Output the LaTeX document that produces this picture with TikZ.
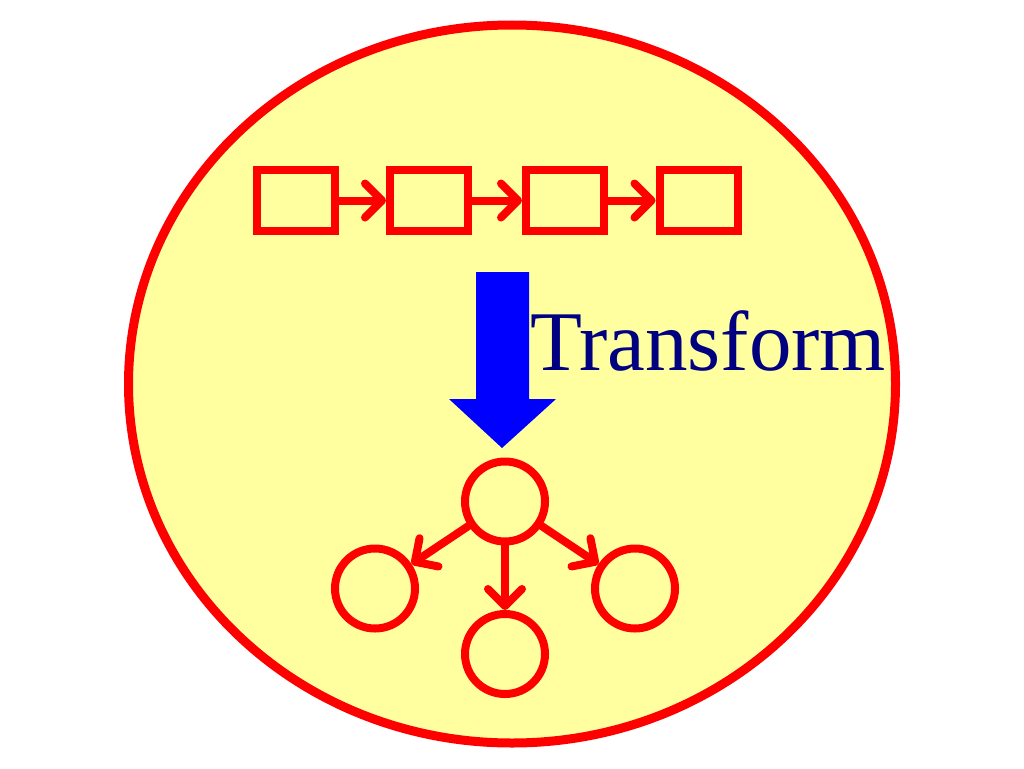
\documentclass[tikz,border=0pt]{standalone}
\usepackage{fontspec}
\setmainfont{Liberation Serif}
\usetikzlibrary{arrows.meta}
\definecolor{bgyellow}{RGB}{255,255,160}
\definecolor{myred}{RGB}{255,0,0}
\definecolor{myblue}{RGB}{0,0,255}
\definecolor{mynavy}{RGB}{0,0,128}
\tikzset{
  listbox/.style={draw=myred, line width=8pt, minimum width=78pt, minimum height=61pt, inner sep=0pt},
  treenode/.style={draw=myred, circle, line width=8pt, minimum size=80pt, inner sep=0pt},
  redarrow/.style={draw=myred, line width=8pt, line cap=round, -{Straight Barb[length=17pt,width=34pt,round]}},
}
\begin{document}
\begin{tikzpicture}[x=1pt,y=-1pt]
\useasboundingbox (0,0) rectangle (1024,768);
% big ellipse
\draw[myred, fill=bgyellow, line width=9pt] (512,384) ellipse [x radius=383.5pt, y radius=359pt];
% list boxes
\node[listbox] (b1) at (295.5,200.5) {};
\node[listbox] (b2) at (429,200.5) {};
\node[listbox] (b3) at (565,200.5) {};
\node[listbox] (b4) at (698.5,200.5) {};
\draw[redarrow] (b1) -- (b2);
\draw[redarrow] (b2) -- (b3);
\draw[redarrow] (b3) -- (b4);
% blue transform arrow
\fill[myblue] (476,272) -- (529,272) -- (529,399) -- (556,399) -- (502,448) -- (449,399) -- (476,399) -- cycle;
\node[anchor=base west, inner sep=0pt, text=mynavy, font=\fontsize{85}{90}\selectfont] (lbl) at (530,370) {Transform};
% tree
\node[treenode] (t0) at (505,501.5) {};
\node[treenode] (tl) at (375,588.5) {};
\node[treenode] (tm) at (505,654) {};
\node[treenode] (tr) at (635,588.5) {};
\draw[redarrow] (t0) -- (tl);
\draw[redarrow] (t0) -- (tm);
\draw[redarrow] (t0) -- (tr);
\end{tikzpicture}
\end{document}
